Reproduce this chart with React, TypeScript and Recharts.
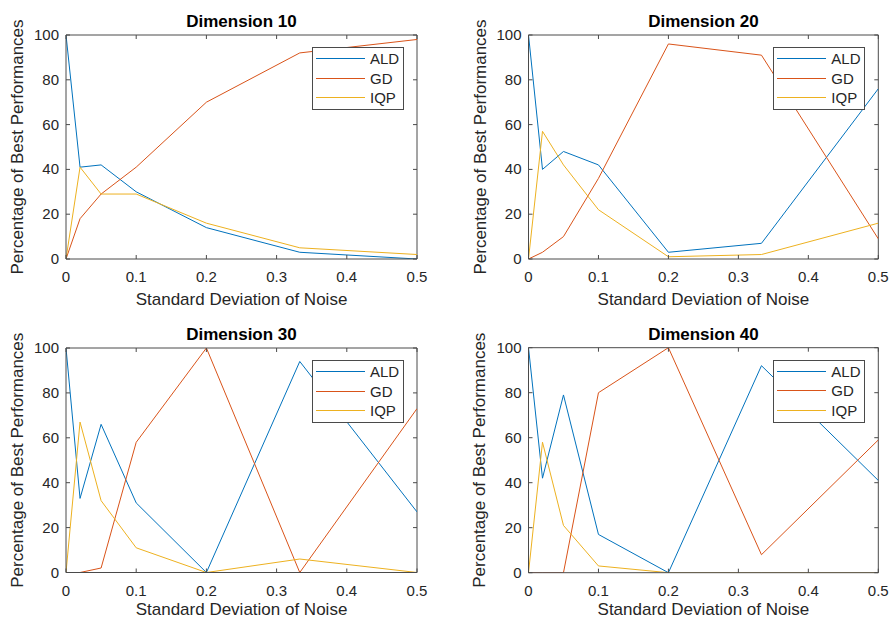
import React from 'react';
import { LineChart, Line, XAxis, YAxis, Legend, ReferenceLine } from 'recharts';

const FONT = '"Liberation Sans", Arial, Helvetica, sans-serif';
const AXIS = '#4a4a4a';
const TEXT = '#262626';
const COLORS: Record<string, string> = { ALD: '#0072BD', GD: '#D95319', IQP: '#EDB120' };

// noise levels (x) and tick values
const NOISE = [0, 0.02, 0.05, 0.1, 0.2, 0.333, 0.5];
const X_TICKS = [0, 0.1, 0.2, 0.3, 0.4, 0.5];
const Y_TICKS = [0, 20, 40, 60, 80, 100];

// percentage of best performances per dimension
const ALD_10 = [100, 41, 42, 30, 14, 3, 0];
const GD_10 = [0, 18, 29, 41, 70, 92, 98];
const IQP_10 = [0, 41, 29, 29, 16, 5, 2];

const ALD_20 = [100, 40, 48, 42, 3, 7, 76];
const GD_20 = [0, 3, 10, 36, 96, 91, 9];
const IQP_20 = [0, 57, 42, 22, 1, 2, 16];

const ALD_30 = [100, 33, 66, 31, 0, 94, 27];
const GD_30 = [0, 0, 2, 58, 100, 0, 73];
const IQP_30 = [0, 67, 32, 11, 0, 6, 0];

const ALD_40 = [100, 42, 79, 17, 0, 92, 41];
const GD_40 = [0, 0, 0, 80, 100, 8, 59];
const IQP_40 = [0, 58, 21, 3, 0, 0, 0];

type Plot = { l: number; r: number; t: number; b: number };

// ticks point inward on both the bottom and top edges, like a boxed matlab axes
function XTick({ x, y, payload, plot }: any) {
    return (
        <g>
            <line x1={x} x2={x} y1={y} y2={y - 4} stroke={AXIS} />
            <line x1={x} x2={x} y1={plot.t} y2={plot.t + 4} stroke={AXIS} />
            <text x={x} y={y + 23} textAnchor="middle" fontSize={15} fontFamily={FONT} fill={TEXT}>{payload.value}</text>
        </g>
    );
}

function YTick({ x, y, payload, plot }: any) {
    return (
        <g>
            <line x1={x} x2={x + 4} y1={y} y2={y} stroke={AXIS} />
            <line x1={plot.r} x2={plot.r - 4} y1={y} y2={y} stroke={AXIS} />
            <text x={x - 7} y={y + 5} textAnchor="end" fontSize={15} fontFamily={FONT} fill={TEXT}>{payload.value}</text>
        </g>
    );
}

function BoxLegend({ payload }: any) {
    return (
        <div style={{ width: 90, height: 60, paddingTop: 1, border: `1px solid ${AXIS}`, background: '#fff', fontFamily: FONT, fontSize: 15, color: TEXT }}>
            {(payload || []).map((p: any) => (
                <div key={p.value} style={{ display: 'flex', alignItems: 'center', height: 19.5 }}>
                    <span style={{ display: 'inline-block', width: 49, borderTop: `1px solid ${COLORS[p.value] || p.color}`, marginLeft: 3.3, marginRight: 5 }} />
                    <span>{p.value}</span>
                </div>
            ))}
        </div>
    );
}

interface PanelProps {
    title: string;
    ald: number[]; gd: number[]; iqp: number[];
    left: number; top: number; height: number;
    plot: Plot;
    xLabelGap: number;
}

function Panel({ title, ald, gd, iqp, left, top, height, plot, xLabelGap }: PanelProps) {
    const width = 445;
    const rows = NOISE.map((x, i) => ({ x, ALD: ald[i], GD: gd[i], IQP: iqp[i] }));
    const cx = (plot.l + plot.r) / 2;
    const cy = (plot.t + plot.b) / 2;
    const yl = plot.l - 43;
    return (
        <div style={{ position: 'absolute', left, top, width, height }}>
            <LineChart
                width={width}
                height={height}
                data={rows}
                margin={{ top: plot.t, left: plot.l - 50, right: width - plot.r, bottom: height - plot.b - 30 }}
            >
                <XAxis
                    dataKey="x" type="number" domain={[0, 0.5]} ticks={X_TICKS} interval={0} allowDataOverflow
                    height={30} tickSize={0} tickMargin={0} tickLine={false} tick={<XTick plot={plot} />}
                    axisLine={{ stroke: AXIS }}
                    label={() => (
                        <g>
                            <text x={cx} y={plot.t - 8} textAnchor="middle" fontSize={17} fontWeight="bold" fontFamily={FONT} fill="#000">{title}</text>
                            <text x={cx} y={plot.b + xLabelGap} textAnchor="middle" fontSize={17} fontFamily={FONT} fill={TEXT}>Standard Deviation of Noise</text>
                        </g>
                    )}
                />
                <YAxis
                    type="number" domain={[0, 100]} ticks={Y_TICKS} interval={0} allowDataOverflow
                    width={50} tickSize={0} tickMargin={0} tickLine={false} tick={<YTick plot={plot} />}
                    axisLine={{ stroke: AXIS }}
                    label={() => (
                        <text x={yl} y={cy} transform={`rotate(-90 ${yl} ${cy})`} textAnchor="middle" fontSize={17} fontFamily={FONT} fill={TEXT}>Percentage of Best Performances</text>
                    )}
                />
                <ReferenceLine y={100} stroke={AXIS} strokeWidth={1} />
                <ReferenceLine x={0.5} stroke={AXIS} strokeWidth={1} />
                <Legend
                    layout="horizontal" verticalAlign="middle" align="center"
                    content={<BoxLegend />}
                    wrapperStyle={{ left: plot.r - 105.3, top: plot.t + 12, width: 92, height: 62 }}
                />
                <Line type="linear" dataKey="ALD" name="ALD" stroke={COLORS.ALD} strokeWidth={1} dot={false} isAnimationActive={false} />
                <Line type="linear" dataKey="GD" name="GD" stroke={COLORS.GD} strokeWidth={1} dot={false} isAnimationActive={false} />
                <Line type="linear" dataKey="IQP" name="IQP" stroke={COLORS.IQP} strokeWidth={1} dot={false} isAnimationActive={false} />
            </LineChart>
        </div>
    );
}

export default function App() {
    const leftPlot = { l: 66, r: 417 };
    const rightPlot = { l: 83.5, r: 433.3 };
    return (
        <div style={{ position: 'absolute', left: 0, top: 0, width: 891, height: 619, background: '#fff', overflow: 'hidden' }}>
            <Panel title="Dimension 10" ald={ALD_10} gd={GD_10} iqp={IQP_10} left={0} top={0} height={310}
                plot={{ ...leftPlot, t: 35, b: 259 }} xLabelGap={46} />
            <Panel title="Dimension 20" ald={ALD_20} gd={GD_20} iqp={IQP_20} left={445} top={0} height={310}
                plot={{ ...rightPlot, t: 35, b: 259 }} xLabelGap={46} />
            <Panel title="Dimension 30" ald={ALD_30} gd={GD_30} iqp={IQP_30} left={0} top={310} height={309}
                plot={{ ...leftPlot, t: 38, b: 262.5 }} xLabelGap={42.5} />
            <Panel title="Dimension 40" ald={ALD_40} gd={GD_40} iqp={IQP_40} left={445} top={310} height={309}
                plot={{ ...rightPlot, t: 37.7, b: 262.7 }} xLabelGap={42.3} />
        </div>
    );
}
